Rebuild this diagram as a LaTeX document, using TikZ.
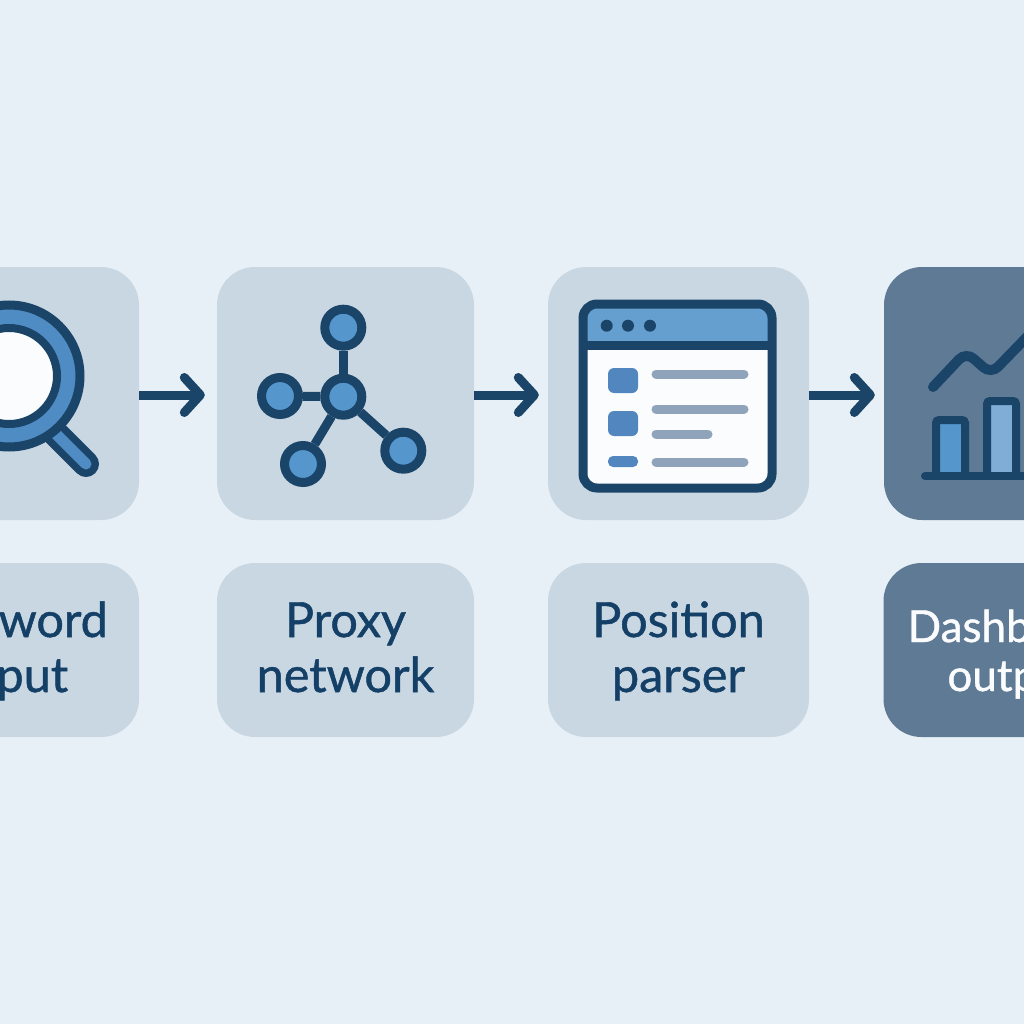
\documentclass[tikz,border=0pt]{standalone}
\usepackage{fontspec}
\setmainfont[FakeBold=1.0]{Lato}
\usetikzlibrary{arrows.meta}
\definecolor{pagebg}{HTML}{E8F0F7}
\definecolor{panelbg}{HTML}{C9D7E3}
\definecolor{paneldark}{HTML}{5F7A94}
\definecolor{inkblue}{HTML}{1B4469}
\definecolor{textblue}{HTML}{143F66}
\definecolor{lensblue}{HTML}{4F8CC4}
\definecolor{nodeblue}{HTML}{5596CC}
\definecolor{headblue}{HTML}{659FCF}
\definecolor{barlight}{HTML}{7FADD6}
\definecolor{rowblue}{HTML}{5286BF}
\definecolor{rowgrey}{HTML}{8FA3BA}
\definecolor{sheet}{HTML}{FBFCFE}
\newcommand{\tagtop}{\rule{0pt}{40pt}}
\newcommand{\taglow}{\rule[-11pt]{0pt}{11pt}}
\begin{document}
\begin{tikzpicture}[x=1pt,y=1pt,
        panel/.style={rectangle,rounded corners=38pt,fill=panelbg,minimum width=258pt,minimum height=253pt,inner sep=0pt},
        tag/.style={rectangle,rounded corners=38pt,fill=panelbg,minimum width=258pt,minimum height=174pt,inner sep=0pt,
                align=center,text=textblue,font=\fontsize{48.5}{55}\selectfont},
        hub/.style={circle,draw=inkblue,fill=nodeblue,line width=9pt,minimum size=37pt,inner sep=0pt},
        flow/.style={draw=inkblue,line width=9pt,-{Straight Barb[length=16pt,width=35pt,round]}},
        spoke/.style={draw=inkblue,line width=9pt},
        row/.style={rowgrey,line width=9pt,line cap=round}]
        \clip (0,0) rectangle (1024,-1024);
        \fill [pagebg] (0,0) rectangle (1024,-1024);
        % top row
        \draw (10,-393.5) node (keybox) [panel] {};
        \draw (345.5,-393.5) node (proxybox) [panel,minimum width=257pt] {};
        \draw (678.5,-393.5) node (parserbox) [panel,minimum width=261pt] {};
        \draw (1013,-393.5) node (dashbox) [panel,fill=paneldark] {};
        % bottom row
        \draw (13,-650) node (keytag) [tag,minimum width=252pt] {\tagtop Keyword\\input\taglow};
        \draw (345.5,-650) node (proxytag) [tag,minimum width=257pt] {\tagtop Proxy\\network\taglow};
        \draw (678.5,-650) node (parsertag) [tag,minimum width=261pt] {\tagtop Position\\parser\taglow};
        \draw (1012.5,-650) node (dashtag) [tag,fill=paneldark,text=sheet,font=\fontsize{44}{49}\selectfont] {\rule{0pt}{42pt}Dashboard\\output\rule[-9pt]{0pt}{9pt}};
        % arrows
        \draw [flow,shorten >=12pt] ([yshift=-1.5pt]keybox.east) -- ([yshift=-1.5pt]proxybox.west);
        \draw [flow,shorten >=9pt] ([yshift=-1.5pt]proxybox.east) -- ([yshift=-1.5pt]parserbox.west);
        \draw [flow,shorten >=9pt] ([yshift=-1.5pt]parserbox.east) -- ([yshift=-1.5pt]dashbox.west);
        % magnifier
        \draw [inkblue,line width=26pt,line cap=round] (50,-428) -- (86,-464);
        \draw [lensblue,line width=11pt,line cap=round] (50,-428) -- (86,-464);
        \draw [inkblue,fill=lensblue,line width=9pt] (9,-376) circle (71);
        \draw [inkblue,fill=sheet,line width=8pt] (9,-376) circle (48);
        % network
        \draw (343.3,-396.7) node (nethub) [hub] {};
        \draw (343.3,-327.7) node (nettop) [hub] {};
        \draw (280,-396) node (netleft) [hub] {};
        \draw (303,-464) node (netlow) [hub] {};
        \draw (403.3,-450.7) node (netright) [hub] {};
        \draw [spoke] (nethub) -- (nettop);
        \draw [spoke] (nethub) -- (netleft);
        \draw [spoke] (nethub) -- (netlow);
        \draw [spoke] (nethub) -- (netright);
        % window
        \fill [sheet,rounded corners=14pt] (583,-304) rectangle (772,-488);
        \fill [headblue,rounded corners=14pt] (583,-304) -- (772,-304) -- (772,-345) -- (583,-345) -- cycle;
        \fill [headblue] (583,-325) rectangle (772,-345);
        \draw [inkblue,line width=9pt,rounded corners=14pt] (583,-304) rectangle (772,-488);
        \draw [inkblue,line width=9pt] (583,-345) -- (772,-345);
        \fill [inkblue] (606.7,-325.7) circle (6);
        \fill [inkblue] (628,-325.7) circle (6);
        \fill [inkblue] (650,-325.7) circle (6);
        \fill [rowblue,rounded corners=6pt] (608,-368) rectangle (638,-393);
        \fill [rowblue,rounded corners=6pt] (608,-411) rectangle (638,-436);
        \fill [rowblue,rounded corners=5pt] (608,-456) rectangle (638,-467);
        \draw [row] (656,-374) -- (744,-374);
        \draw [row] (656,-409) -- (744,-409);
        \draw [row] (656,-434) -- (708,-434);
        \draw [row] (656,-462) -- (744,-462);
        % chart
        \draw [inkblue,line width=10pt,line cap=round,rounded corners=10pt] (933,-387) -- (966,-352) -- (991,-374) -- (1040,-323.5);
        \draw [inkblue,fill=nodeblue,line width=8pt,rounded corners=3pt] (936,-476) -- (936,-420) -- (965,-420) -- (965,-476);
        \draw [inkblue,fill=barlight,line width=8pt,rounded corners=3pt] (987,-476) -- (987,-401) -- (1016,-401) -- (1016,-476);
        \draw [inkblue,line width=8pt,line cap=round] (925,-476) -- (1040,-476);
        \end{tikzpicture}
\end{document}
